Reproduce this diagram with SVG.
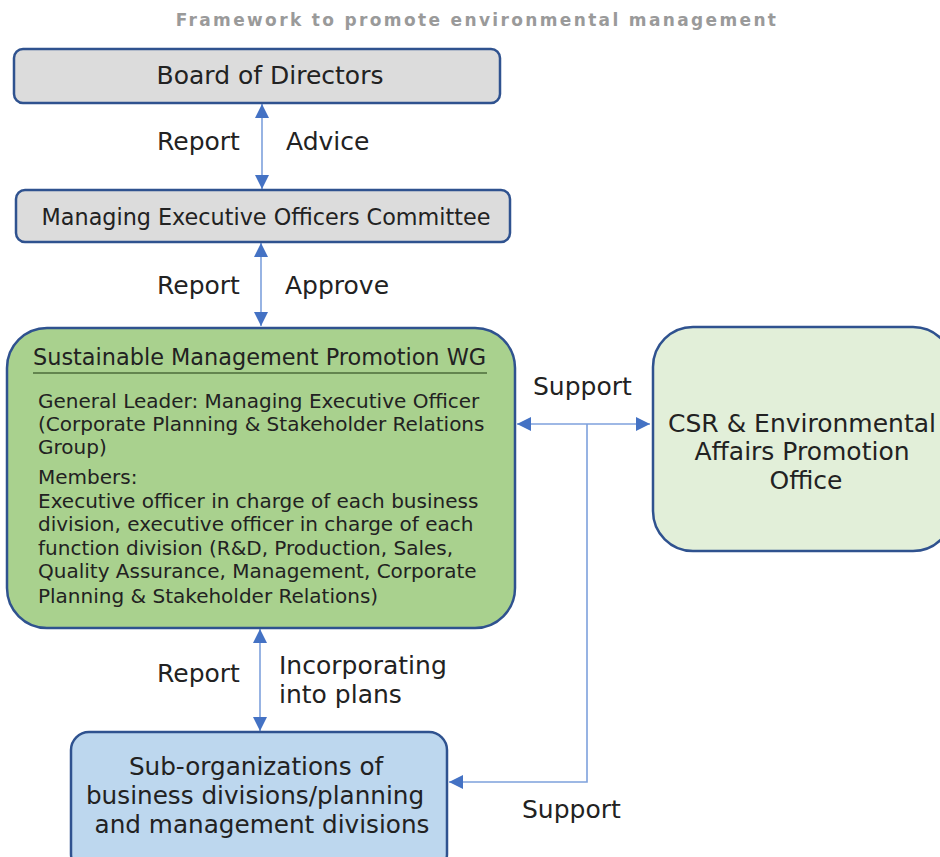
<svg xmlns="http://www.w3.org/2000/svg" width="940" height="857" viewBox="0 0 940 857">
<defs>
<style>
.t{font-family:"DejaVu Sans","Liberation Sans",sans-serif;fill:#222;}
.box{stroke:#2f528f;stroke-width:2.5;}
.ln{stroke:#7ea1dc;stroke-width:1.6;fill:none;}
.lb{font-size:25px;}
</style>
<marker id="ah" viewBox="0 0 14 14" refX="14" refY="7" markerWidth="14" markerHeight="14" markerUnits="userSpaceOnUse" orient="auto-start-reverse">
<path d="M0,0 L14,7 L0,14 Z" fill="#4472c4"/>
</marker>
</defs>
<rect width="940" height="857" fill="#fff"/>
<text class="t" x="477" y="26" text-anchor="middle" font-size="17" font-weight="bold" letter-spacing="2.35" style="fill:#9a9a9a">Framework to promote environmental management</text>

<g id="connectors">
<line class="ln" x1="262" y1="104" x2="262" y2="189" marker-start="url(#ah)" marker-end="url(#ah)"/>
<line class="ln" x1="261" y1="243" x2="261" y2="326" marker-start="url(#ah)" marker-end="url(#ah)"/>
<line class="ln" x1="260" y1="629" x2="260" y2="731" marker-start="url(#ah)" marker-end="url(#ah)"/>
<line class="ln" x1="517" y1="424" x2="650" y2="424" marker-start="url(#ah)" marker-end="url(#ah)"/>
<polyline class="ln" points="587,424 587,782 449,782" marker-end="url(#ah)"/>
<text class="t lb" x="157" y="150">Report</text>
<text class="t lb" x="286" y="150">Advice</text>
<text class="t lb" x="157" y="294">Report</text>
<text class="t lb" x="285" y="294">Approve</text>
<text class="t lb" x="533" y="395">Support</text>
<text class="t lb" x="157" y="682">Report</text>
<text class="t lb" x="279" y="674">Incorporating</text>
<text class="t lb" x="279" y="703">into plans</text>
<text class="t lb" x="522" y="818">Support</text>
</g>

<g id="board">
<rect class="box" x="14" y="49" width="486" height="54" rx="9" fill="#dcdcdc"/>
<text class="t" x="270" y="84" text-anchor="middle" font-size="25">Board of Directors</text>
</g>

<g id="meoc">
<rect class="box" x="16" y="190" width="494" height="52" rx="9" fill="#dcdcdc"/>
<text class="t" x="266" y="225" text-anchor="middle" font-size="22.3">Managing Executive Officers Committee</text>
</g>

<g id="wg">
<rect class="box" x="7" y="328" width="508" height="300" rx="40" fill="#a9d18e"/>
<text class="t" x="33" y="365" font-size="22.4">Sustainable Management Promotion WG</text>
<line x1="33" y1="373" x2="487" y2="373" stroke="#4d6b3a" stroke-width="1.5"/>
<text class="t" font-size="20">
<tspan x="38" y="408">General Leader: Managing Executive Officer</tspan>
<tspan x="38" y="431">(Corporate Planning &amp; Stakeholder Relations</tspan>
<tspan x="38" y="454">Group)</tspan>
<tspan x="38" y="484">Members:</tspan>
<tspan x="38" y="508">Executive officer in charge of each business</tspan>
<tspan x="38" y="531">division, executive officer in charge of each</tspan>
<tspan x="38" y="555">function division (R&amp;D, Production, Sales,</tspan>
<tspan x="38" y="578">Quality Assurance, Management, Corporate</tspan>
<tspan x="38" y="603">Planning &amp; Stakeholder Relations)</tspan>
</text>
</g>

<g id="csr">
<rect class="box" x="653" y="327" width="300" height="224" rx="40" fill="#e2efd9"/>
<text class="t" font-size="25" text-anchor="middle">
<tspan x="806" y="432">CSR &amp; Environmental</tspan>
<tspan x="806" y="460">Affairs Promotion</tspan>
<tspan x="806" y="489">Office</tspan>
</text>
</g>

<g id="sub">
<rect class="box" x="71" y="732" width="376" height="140" rx="18" fill="#bdd7ee"/>
<text class="t" font-size="24.7" text-anchor="middle">
<tspan x="260" y="775">Sub-organizations of</tspan>
<tspan x="259" y="804">business divisions/planning</tspan>
<tspan x="262" y="833">and management divisions</tspan>
</text>
</g>
</svg>
